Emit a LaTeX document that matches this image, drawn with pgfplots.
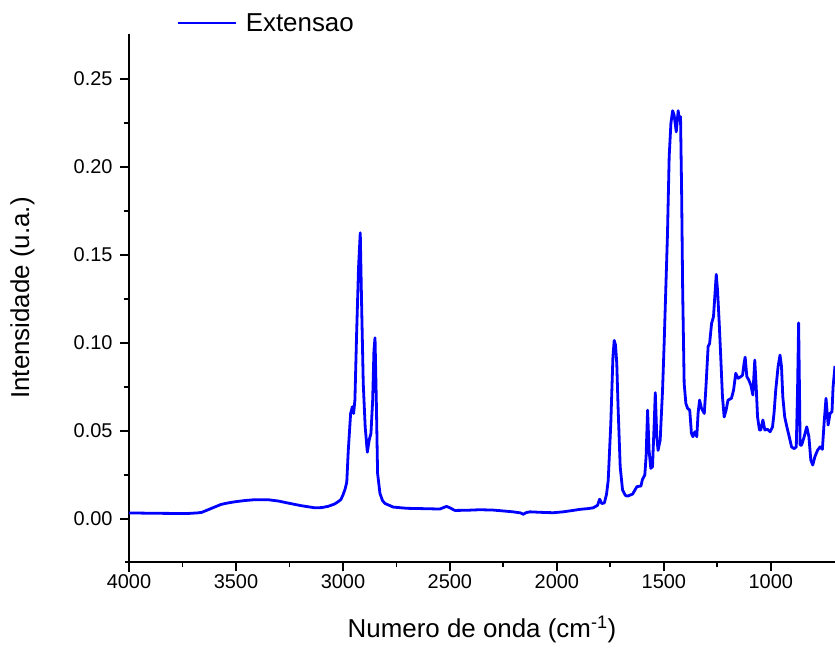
\documentclass[border=0pt]{standalone}
\usepackage{fontspec}
\setmainfont{Liberation Sans}
\usepackage{pgfplots}
\pgfplotsset{compat=1.18}
\usepackage{pgfplotstable}

\definecolor{specblue}{RGB}{0,0,255}

% FTIR spectrum: wavenumber (cm^-1) vs intensity (a.u.)
\pgfplotstableread{
x y
4000 0.0035
3900 0.0033
3800 0.0032
3720 0.0032
3680 0.0035
3660 0.0038
3630 0.0053
3600 0.0068
3570 0.0083
3540 0.0091
3506 0.0098
3460 0.0105
3413 0.0110
3350 0.0110
3300 0.0102
3257 0.0091
3195 0.0076
3132 0.0064
3100 0.0065
3070 0.0072
3040 0.0085
3023 0.0098
3010 0.0110
3000 0.0136
2990 0.0170
2982 0.0210
2975 0.039
2964 0.060
2956 0.0638
2950 0.060
2944 0.0676
2936 0.1055
2927 0.143
2919 0.1627
2913 0.124
2905 0.077
2896 0.0524
2886 0.038
2877 0.045
2869 0.0487
2861 0.0676
2855 0.096
2850 0.103
2844 0.0676
2838 0.026
2827 0.0146
2815 0.0105
2804 0.0089
2765 0.0068
2700 0.0061
2620 0.0059
2547 0.0057
2528 0.0066
2516 0.0072
2500 0.0064
2477 0.0049
2420 0.0050
2360 0.0053
2298 0.0051
2250 0.0046
2204 0.0041
2170 0.0035
2157 0.0027
2145 0.0036
2126 0.0041
2070 0.0038
2017 0.0036
1971 0.0041
1930 0.0048
1893 0.0055
1850 0.0060
1830 0.0064
1810 0.0078
1800 0.0113
1790 0.0088
1778 0.0092
1768 0.0140
1760 0.022
1748 0.054
1738 0.092
1732 0.1015
1726 0.099
1720 0.0885
1714 0.064
1704 0.0297
1693 0.0165
1680 0.0135
1670 0.0130
1646 0.0142
1626 0.0184
1607 0.0188
1600 0.0225
1589 0.025
1583 0.0354
1576 0.0619
1569 0.039
1561 0.0288
1553 0.0297
1545 0.0544
1540 0.0718
1533 0.0468
1527 0.039
1517 0.045
1506 0.0733
1499 0.098
1491 0.130
1483 0.162
1475 0.206
1467 0.2248
1459 0.232
1452 0.2295
1442 0.220
1433 0.232
1427 0.2267
1422 0.2286
1417 0.187
1412 0.130
1405 0.077
1397 0.0657
1389 0.0629
1379 0.0619
1371 0.0487
1364 0.0468
1355 0.0496
1346 0.0468
1340 0.060
1333 0.0676
1324 0.0629
1311 0.060
1304 0.0733
1293 0.098
1286 0.0998
1277 0.111
1268 0.115
1262 0.126
1255 0.139
1249 0.130
1241 0.111
1234 0.092
1226 0.0695
1218 0.058
1209 0.0619
1200 0.0676
1184 0.0686
1174 0.0733
1164 0.0828
1153 0.080
1140 0.0809
1132 0.0818
1125 0.0885
1120 0.092
1112 0.0809
1103 0.079
1093 0.076
1084 0.0705
1075 0.0903
1069 0.077
1062 0.058
1053 0.0506
1047 0.0506
1037 0.0563
1028 0.0506
1016 0.051
1003 0.0496
992 0.0524
985 0.060
977 0.0733
966 0.0866
957 0.0932
950 0.0866
944 0.0695
935 0.058
925 0.0524
914 0.0468
903 0.041
891 0.040
881 0.041
875 0.0733
870 0.1115
866 0.0733
863 0.042
856 0.042
844 0.0468
832 0.0524
822 0.0468
813 0.0335
804 0.0307
794 0.0354
782 0.039
770 0.041
759 0.0396
751 0.0544
742 0.0686
732 0.0534
723 0.060
714 0.061
709 0.075
700 0.087
}\spectrum

\begin{document}
\begin{tikzpicture}
\begin{axis}[
  at={(0,0)}, anchor=south west,
  scale only axis,
  width=706bp, height=528bp,
  x dir=reverse,
  xmin=700, xmax=4000,
  ymin=-0.0244, ymax=0.2756,
  axis x line*=bottom,
  axis y line*=left,
  axis line style={line width=2bp, black},
  xtick={1000,1500,...,4000},
  ytick={0,0.05,...,0.25},
  minor x tick num=1,
  minor y tick num=1,
  tick align=outside,
  major tick length=9bp,
  minor tick length=5bp,
  every tick/.style={black, line width=1.8bp},
  /pgf/number format/assume math mode=true,
  xticklabel style={/pgf/number format/.cd, fixed, 1000 sep={}},
  yticklabel style={xshift=-4bp, /pgf/number format/.cd, fixed, fixed zerofill, precision=2},
  tick label style={font=\fontsize{20}{20}\selectfont},
  xlabel={Numero de onda (cm\textsuperscript{-1})},
  ylabel={Intensidade (u.a.)},
  label style={font=\fontsize{26}{26}\selectfont},
  xlabel style={at={(0.5,0)}, anchor=north, yshift=-51bp},
  ylabel style={at={(0,0.5)}, anchor=south, yshift=91bp},
  legend style={
    at={(0.068,1.0208)}, anchor=west,
    draw=none, fill=none, inner sep=0pt, outer sep=0pt,
    font=\fontsize{26}{26}\selectfont,
    nodes={inner sep=0pt, text depth=0pt},
  },
  legend cell align=left,
  legend image code/.code={\draw[#1] (0bp,0bp) -- (58bp,0bp); \path (66bp,0bp);},
  clip=false,
]
\addplot[specblue, line width=2.8bp, line join=round, mark=none] table[x=x, y=y] {\spectrum};
\addlegendentry{Extensao}
% axis lines run slightly past the corner where they meet
\draw[line width=2bp, black] (axis description cs:0,0) -- ([yshift=-10bp]axis description cs:0,0);
\draw[line width=2bp, black] (axis description cs:0,0) -- ([xshift=-4bp]axis description cs:0,0);
\end{axis}
\pgfresetboundingbox
\path[use as bounding box] (-129bp,-86bp) rectangle (706bp,562bp);
\end{tikzpicture}
\end{document}
